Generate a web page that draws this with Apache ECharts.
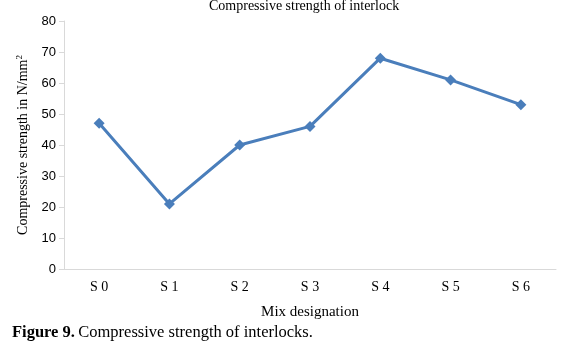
<!DOCTYPE html>
<html><head><meta charset="utf-8">
<script src="https://cdn.jsdelivr.net/npm/echarts@6/dist/echarts.min.js"></script>
<style>html,body{margin:0;padding:0;background:#fff}#c{width:562px;height:352px}</style>
</head><body><div id="c"></div>
<script>
const categories = ['S0','S1','S2','S3','S4','S5','S6'];
const strength = [47, 21, 40, 46, 68, 61, 53];
const yTicks = [0,10,20,30,40,50,60,70,80];

const chart = echarts.init(document.getElementById('c'));
chart.setOption({
  animation: false,
  backgroundColor: '#fff',
  title: {
    text: 'Compressive strength of interlock',
    left: 204, top: -6,
    textStyle: {fontFamily: 'Liberation Serif', fontSize: 14, fontWeight: 'normal', color: '#000'}
  },
  grid: {left: 64, right: 6, top: 21, bottom: 83},
  xAxis: {
    type: 'category', data: categories, boundaryGap: true,
    axisLine: {lineStyle: {color: '#D9D9D9'}},
    axisTick: {show: false},
    axisLabel: {fontFamily: 'Liberation Serif', fontSize: 14, color: '#000', margin: 11,
      formatter: v => v.split('').join(' ')},
    name: 'Mix designation', nameLocation: 'middle', nameGap: 36,
    nameTextStyle: {fontFamily: 'Liberation Serif', fontSize: 15, color: '#000'}
  },
  yAxis: {
    type: 'value', min: yTicks[0], max: yTicks[yTicks.length-1], interval: 10,
    axisLine: {show: true, lineStyle: {color: '#D9D9D9'}},
    axisTick: {show: true, length: 5, lineStyle: {color: '#D9D9D9'}},
    splitLine: {show: false},
    axisLabel: {fontFamily: 'Liberation Sans', fontSize: 13, color: '#000', margin: 8},
    name: '{a|Compressive strength in N/mm}{s|2}', nameLocation: 'middle', nameGap: 33,
    nameTextStyle: {
      rich: {
        a: {fontFamily: 'Liberation Serif', fontSize: 14, color: '#000'},
        s: {fontFamily: 'Liberation Serif', fontSize: 9, color: '#000', verticalAlign: 'top', padding: [0,0,7,0]}
      }
    }
  },
  series: [{
    type: 'line', data: strength,
    symbol: 'diamond', symbolSize: 11,
    lineStyle: {color: '#4A7EBB', width: 3},
    itemStyle: {color: '#4A7EBB'}
  }],
  graphic: [{
    type: 'text', left: 12, top: 324,
    style: {
      text: '{b|Figure 9.} {n|Compressive strength of interlocks.}',
      rich: {
        b: {fontFamily: 'Liberation Serif', fontSize: 16.5, fontWeight: 'bold', fill: '#000'},
        n: {fontFamily: 'Liberation Serif', fontSize: 16.5, fill: '#000'}
      }
    }
  }]
});
</script></body></html>
